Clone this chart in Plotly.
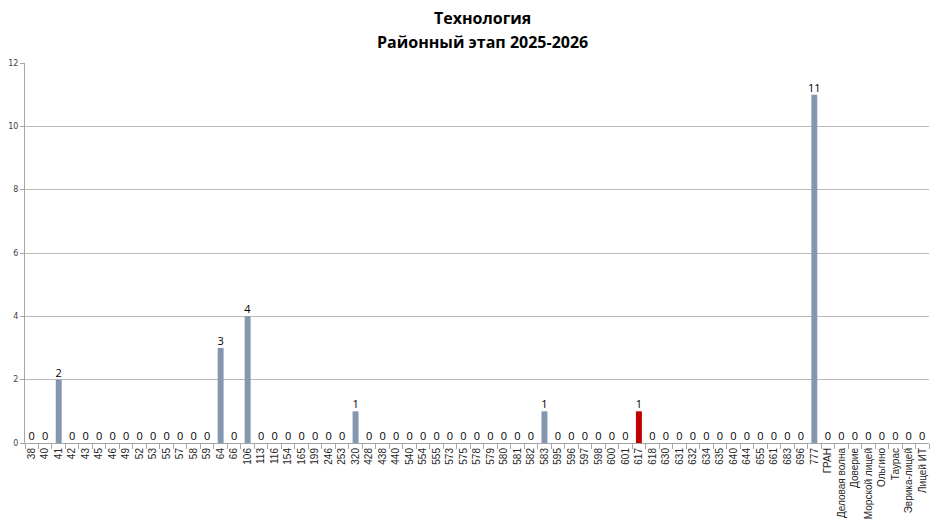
import plotly.graph_objects as go

categories = ["38", "40", "41", "42", "43", "45", "46", "49", "52", "53", "55", "57", "58", "59",
              "64", "66", "106", "113", "116", "154", "165", "199", "246", "253", "320", "428",
              "438", "440", "540", "554", "555", "573", "575", "578", "579", "580", "581", "582",
              "583", "595", "596", "597", "598", "600", "601", "617", "618", "630", "631", "632",
              "634", "635", "640", "644", "655", "661", "683", "696", "777", "ГРАН",
              "Деловая волна", "Доверие", "Морской лицей", "Ольгино", "Таурас", "Эврика-лицей",
              "Лицей ИТ"]
values = {"41": 2, "64": 3, "106": 4, "320": 1, "583": 1, "617": 1, "777": 11}
counts = [values.get(c, 0) for c in categories]
highlight = "617"
y_ticks = [0, 2, 4, 6, 8, 10, 12]
title_lines = ["Технология", "Районный этап 2025-2026"]

colors = ["#C00000" if c == highlight else "#8496B0" for c in categories]

fig = go.Figure(go.Bar(
    x=categories, y=counts,
    marker=dict(color=colors, line=dict(width=0)),
    text=[str(v) for v in counts], textposition="outside",
    constraintext="none",
    textfont=dict(family="Open Sans", size=11, color="#000000"),
    cliponaxis=False,
))

# page body has an 8px margin, so the figure is shifted by 8px right/down
fig.update_layout(
    width=932, height=521,
    margin=dict(l=17, r=11, t=55, b=86),
    paper_bgcolor="white", plot_bgcolor="white",
    bargap=0.56,
    showlegend=False,
    font=dict(family="Liberation Sans", color="#000000"),
    annotations=[
        dict(text=title_lines[0], x=0.5066, y=1.118, xref="paper", yref="paper",
             xanchor="center", yanchor="middle", showarrow=False,
             font=dict(family="Open Sans", size=16, color="#000000", weight="bold")),
        dict(text=title_lines[1], x=0.5066, y=1.055, xref="paper", yref="paper",
             xanchor="center", yanchor="middle", showarrow=False,
             font=dict(family="Open Sans", size=16, color="#000000", weight="bold")),
    ],
)
fig.update_xaxes(
    type="category", tickangle=-90,
    tickfont=dict(family="Liberation Sans", size=10, color="#262626"),
    showline=True, linecolor="#A6A6A6", linewidth=1, automargin=False,
    ticks="outside", tickson="boundaries", ticklen=5, tickcolor="#A6A6A6",
    showgrid=False,
)
fig.update_yaxes(
    range=[0, 12], tickvals=y_ticks,
    tickfont=dict(family="DejaVu Sans", size=8, color="#404040"),
    showline=True, linecolor="#A6A6A6", linewidth=1, automargin=False,
    ticks="outside", ticklen=4, tickcolor="#A6A6A6",
    showgrid=True, gridcolor="#BABABA", gridwidth=1, zeroline=False,
)

fig.write_html("out.html")
